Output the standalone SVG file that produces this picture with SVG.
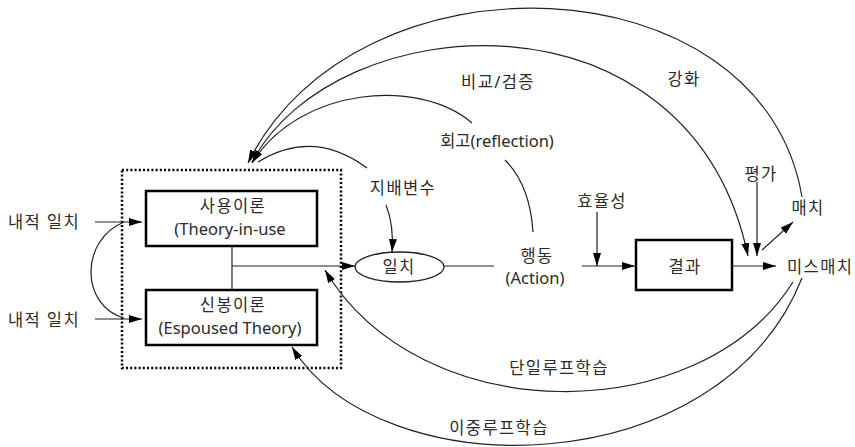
<svg xmlns="http://www.w3.org/2000/svg" width="855" height="447" viewBox="0 0 855 447">
<style>
  text { font-family: "Noto Sans", "Noto Sans CJK KR", sans-serif; font-size: 16.5px; fill: #2a2a2a; }
  .k { letter-spacing: 1.4px; }
  .c { text-anchor: middle; }
  .box { fill: #fff; stroke: #000; stroke-width: 2.5; }
  .line { fill: none; stroke: #222; stroke-width: 1.2; }
  .arr { marker-end: url(#ah); }
</style>
<defs>
  <marker id="ah" markerUnits="userSpaceOnUse" markerWidth="14" markerHeight="9" refX="13" refY="4" orient="auto">
    <path d="M0,0 L13,4 L0,8 z" fill="#000"/>
  </marker>
</defs>
<rect width="855" height="447" fill="#fff"/>

<g id="frame">
  <rect x="122" y="170" width="219" height="198" fill="none" stroke="#000" stroke-width="2.5" stroke-dasharray="2 2.2"/>
</g>

<g id="connectors">
  <line class="line arr" x1="95" y1="222" x2="142" y2="222"/>
  <line class="line arr" x1="95" y1="319" x2="142" y2="319"/>
  <path class="line" d="M124,222 C80,240 80,305 124,318"/>
  <line class="line" x1="232" y1="246" x2="232" y2="290"/>
  <line class="line arr" x1="232" y1="266" x2="355" y2="266"/>
  <line class="line" x1="444" y1="266" x2="494" y2="266"/>
  <line class="line arr" x1="582" y1="266" x2="635" y2="266"/>
  <line class="line arr" x1="597" y1="212" x2="597" y2="266"/>
  <line class="line arr" x1="732" y1="266" x2="776" y2="266"/>
  <line class="line arr" x1="757" y1="182" x2="757" y2="256"/>
  <line class="line arr" x1="762" y1="250" x2="793" y2="222"/>
  <path class="line arr" d="M802,197 C762,-42 355,-55 248,163"/>
  <path class="line arr" d="M252,162 C335,5 690,-20 748,256"/>
  <path class="line" d="M533,232 Q530,185 505,160"/>
  <path class="line arr" d="M472,123 C420,78 300,86 252,163"/>
  <path class="line" d="M258,162 Q313,128 367,168"/>
  <path class="line arr" d="M386,205 Q394,225 392,252"/>
  <path class="line arr" d="M793,282 C700,430 420,430 325,270"/>
  <path class="line arr" d="M802,278 C720,485 380,490 292,347"/>
</g>

<g id="theory-in-use">
  <rect class="box" x="146" y="191" width="171" height="55"/>
  <text class="c k" x="233" y="212">사용이론</text>
  <text class="c" x="230" y="235">(Theory-in-use</text>
</g>
<g id="espoused-theory">
  <rect class="box" x="146" y="290" width="171" height="55"/>
  <text class="c k" x="233" y="311">신봉이론</text>
  <text class="c" x="230" y="334">(Espoused Theory)</text>
</g>
<g id="match-ellipse">
  <ellipse cx="399.5" cy="267" rx="44.5" ry="15" fill="#fff" stroke="#222" stroke-width="1.3"/>
  <text class="c k" x="399" y="273">일치</text>
</g>
<g id="result">
  <rect class="box" x="636" y="240" width="96" height="50"/>
  <text class="c k" x="685" y="273">결과</text>
</g>

<g id="labels">
  <text class="k" x="8" y="228">내적 일치</text>
  <text class="k" x="8" y="326">내적 일치</text>
  <text class="c k" x="403" y="194">지배변수</text>
  <text class="c" x="497" y="147">회고(reflection)</text>
  <text class="c k" x="498" y="88">비교/검증</text>
  <text class="c k" x="684" y="85">강화</text>
  <text class="c k" x="537" y="262">행동</text>
  <text class="c" x="535" y="284">(Action)</text>
  <text class="c k" x="602" y="207">효율성</text>
  <text class="c k" x="761" y="180">평가</text>
  <text class="c k" x="808" y="214">매치</text>
  <text class="k" x="787" y="273">미스매치</text>
  <text class="c k" x="559" y="374">단일루프학습</text>
  <text class="c k" x="499" y="434">이중루프학습</text>
</g>
</svg>
